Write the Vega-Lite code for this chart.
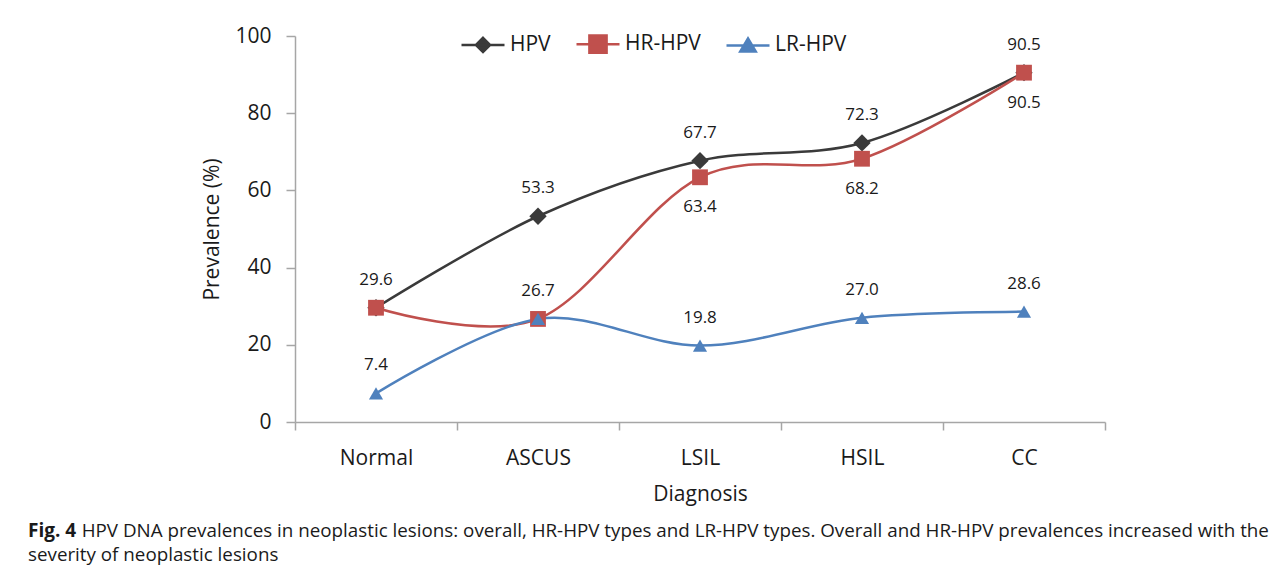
{
  "$schema": "https://vega.github.io/schema/vega-lite/v6.json",
  "width": 810,
  "height": 386,
  "autosize": "none",
  "padding": {"left": 295, "top": 36, "right": 179, "bottom": 156},
  "background": "white",
  "config": {
    "view": {"stroke": null},
    "font": "Open Sans",
    "axis": {"labelFont": "Open Sans", "titleFont": "Open Sans", "labelColor": "#1a1a1a", "titleColor": "#1a1a1a", "domainColor": "#a6a6a6", "tickColor": "#a6a6a6", "domainWidth": 1.5, "tickWidth": 1.5, "grid": false, "labelFontSize": 21, "titleFontSize": 21, "titleFontWeight": "normal"}
  },
  "title": {
    "text": "Fig. 4",
    "subtitle": ["\u200b\u00a0\u00a0\u00a0\u00a0\u00a0\u00a0\u00a0\u00a0\u00a0\u00a0\u00a0HPV DNA prevalences in neoplastic lesions: overall, HR-HPV types and LR-HPV types. Overall and HR-HPV prevalences increased with the", "severity of neoplastic lesions"],
    "orient": "bottom",
    "anchor": "start",
    "frame": "group",
    "dx": -267,
    "offset": 18,
    "font": "Open Sans",
    "fontSize": 19,
    "fontWeight": "bold",
    "color": "#1a1a1a",
    "subtitleFont": "Open Sans",
    "subtitleFontSize": 18.8,
    "subtitleColor": "#1a1a1a",
    "subtitleLineHeight": 24,
    "subtitlePadding": -19
  },
  "data": {
    "values": [
      {"Diagnosis": "Normal", "Series": "HPV", "Prevalence": 29.6},
      {"Diagnosis": "ASCUS", "Series": "HPV", "Prevalence": 53.3},
      {"Diagnosis": "LSIL", "Series": "HPV", "Prevalence": 67.7},
      {"Diagnosis": "HSIL", "Series": "HPV", "Prevalence": 72.3},
      {"Diagnosis": "CC", "Series": "HPV", "Prevalence": 90.5},
      {"Diagnosis": "Normal", "Series": "HR-HPV", "Prevalence": 29.6},
      {"Diagnosis": "ASCUS", "Series": "HR-HPV", "Prevalence": 26.7},
      {"Diagnosis": "LSIL", "Series": "HR-HPV", "Prevalence": 63.4},
      {"Diagnosis": "HSIL", "Series": "HR-HPV", "Prevalence": 68.2},
      {"Diagnosis": "CC", "Series": "HR-HPV", "Prevalence": 90.5},
      {"Diagnosis": "Normal", "Series": "LR-HPV", "Prevalence": 7.4},
      {"Diagnosis": "ASCUS", "Series": "LR-HPV", "Prevalence": 26.7},
      {"Diagnosis": "LSIL", "Series": "LR-HPV", "Prevalence": 19.8},
      {"Diagnosis": "HSIL", "Series": "LR-HPV", "Prevalence": 27.0},
      {"Diagnosis": "CC", "Series": "LR-HPV", "Prevalence": 28.6}
    ]
  },
  "encoding": {
    "x": {
      "field": "Diagnosis",
      "type": "nominal",
      "sort": ["Normal", "ASCUS", "LSIL", "HSIL", "CC"],
      "bandPosition": 0.5,
      "scale": {"type": "band", "paddingInner": 0, "paddingOuter": 0},
      "axis": {"title": "Diagnosis", "labelAngle": 0, "tickBand": "extent", "tickSize": 8, "labelPadding": 17, "titlePadding": 15}
    },
    "y": {
      "field": "Prevalence",
      "type": "quantitative",
      "scale": {"domain": [0, 100], "nice": false},
      "axis": {"title": "Prevalence (%)", "values": [0, 20, 40, 60, 80, 100], "tickSize": 9, "labelPadding": 15, "titlePadding": 12}
    }
  },
  "layer": [
    {
      "mark": {"type": "line", "interpolate": "cardinal", "tension": 0, "strokeWidth": 2.5},
      "encoding": {
        "stroke": {
          "field": "Series",
          "type": "nominal",
          "scale": {"domain": ["HPV", "HR-HPV", "LR-HPV"], "range": ["#3a3a3a", "#c0504d", "#4f81bd"]},
          "legend": {
            "title": null,
            "orient": "none",
            "direction": "horizontal",
            "legendX": 165,
            "legendY": -15,
            "padding": 0,
            "labelFont": "Open Sans",
            "labelFontSize": 21,
            "labelColor": "#1a1a1a",
            "labelOffset": 4,
            "columnPadding": 20,
            "symbolSize": 1849,
            "symbolStrokeWidth": 2.5,
            "encode": {
              "symbols": {
                "update": {
                  "shape": {"signal": "datum.value === 'HPV' ? 'M-1,0L1,0M0,-0.33L0.33,0L0,0.33L-0.33,0Z' : datum.value === 'HR-HPV' ? 'M-1,0L1,0M-0.4,-0.4L0.4,-0.4L0.4,0.4L-0.4,0.4Z' : 'M-1,0L1,0M0,-0.33L0.36,0.28L-0.36,0.28Z'"},
                  "fill": {"signal": "datum.value === 'HPV' ? '#3a3a3a' : datum.value === 'HR-HPV' ? '#c0504d' : '#4f81bd'"},
                  "size": {"value": 1849}
                }
              }
            }
          }
        }
      }
    },
    {
      "mark": {"type": "point", "filled": true, "opacity": 1, "strokeWidth": 0},
      "encoding": {
        "fill": {
          "field": "Series",
          "type": "nominal",
          "scale": {"domain": ["LR-HPV", "HR-HPV", "HPV"], "range": ["#4f81bd", "#c0504d", "#3a3a3a"]},
          "legend": null
        },
        "shape": {
          "field": "Series",
          "type": "nominal",
          "scale": {"domain": ["LR-HPV", "HR-HPV", "HPV"], "range": ["triangle-up", "square", "diamond"]},
          "legend": null
        },
        "size": {
          "field": "Series",
          "type": "nominal",
          "scale": {"domain": ["LR-HPV", "HR-HPV", "HPV"], "range": [200, 300, 230]},
          "legend": null
        }
      }
    },
    {
      "transform": [{"filter": "datum.Series === 'HPV' || datum.Series === 'LR-HPV'"}],
      "mark": {"type": "text", "dy": -28, "fontSize": 17, "font": "Open Sans", "color": "#1a1a1a", "baseline": "middle"},
      "encoding": {"text": {"field": "Prevalence", "type": "quantitative", "format": ".1f"}}
    },
    {
      "transform": [{"filter": "datum.Series === 'HR-HPV' && (datum.Diagnosis === 'LSIL' || datum.Diagnosis === 'HSIL' || datum.Diagnosis === 'CC')"}],
      "mark": {"type": "text", "dy": 30, "fontSize": 17, "font": "Open Sans", "color": "#1a1a1a", "baseline": "middle"},
      "encoding": {"text": {"field": "Prevalence", "type": "quantitative", "format": ".1f"}}
    }
  ]
}
